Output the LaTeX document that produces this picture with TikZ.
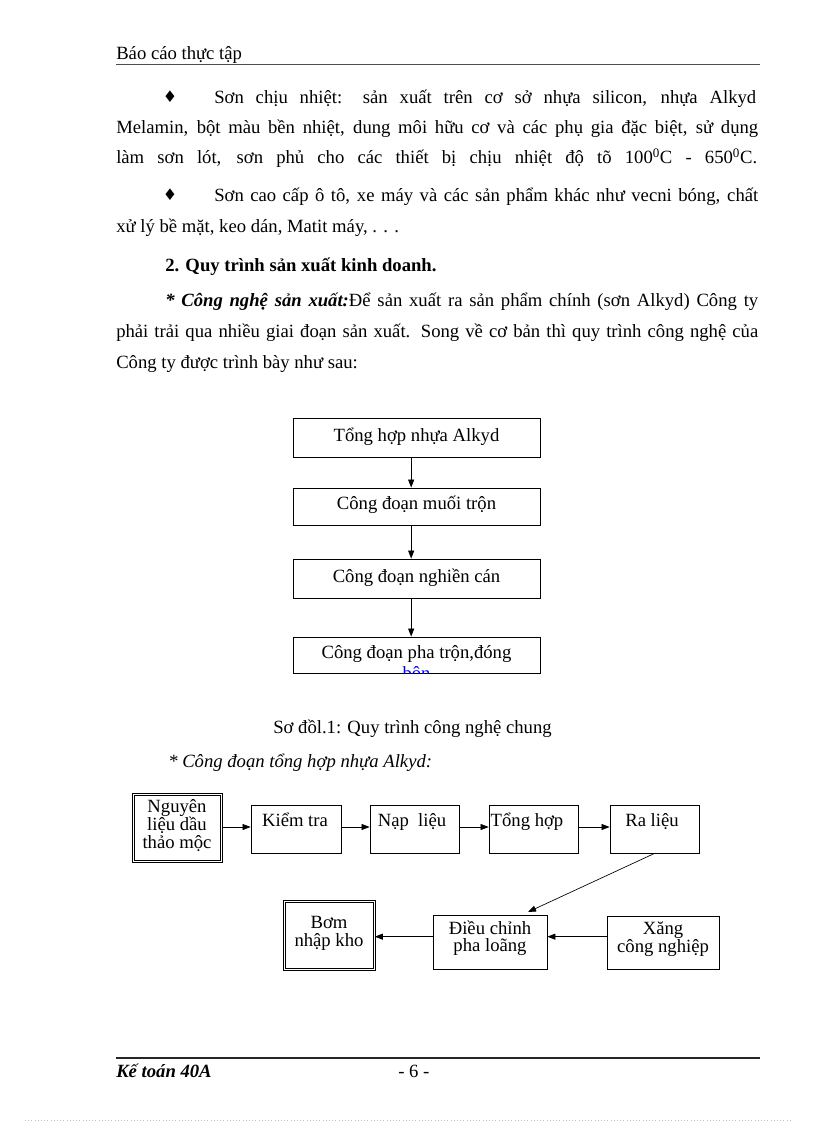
\documentclass[tikz,border=0pt]{standalone}
\usepackage{fontspec}
\setmainfont{Liberation Serif}
\newfontfamily\dejavu{DejaVu Sans}
\usetikzlibrary{arrows.meta}
\begin{document}
\begin{tikzpicture}[x=0.75pt,y=-0.75pt,
  txt/.style={inner sep=0pt, anchor=base west, font=\fontsize{14}{16}\selectfont},
  ctxt/.style={inner sep=0pt, anchor=base, font=\fontsize{14}{16}\selectfont},
  box/.style={draw, line width=0.6pt, inner sep=0pt},
  dbox/.style={draw, line width=0.6pt, double, double distance=1.2pt, inner sep=0pt},
  arr/.style={line width=0.5pt, -{Triangle[length=6pt,width=4.5pt]}},
  bullet/.style={inner sep=0pt, anchor=base, font=\dejavu\fontsize{12}{14}\selectfont}
]
\useasboundingbox (0,0) rectangle (816,1123);

% header
\node[txt] (hdr) at (116,60) {Báo cáo thực tập};
\coordinate (hl1) at (116,64);
\coordinate (hl2) at (760,64);
\draw[line width=0.5pt, black!70] (hl1) -- (hl2);

% paragraph 1
\node[bullet] (b1) at (170,103) {♦};
\node[txt] (p1l1) at (214,104) {\makebox[406.5pt][s]{Sơn chịu nhiệt: sản xuất trên cơ sở nhựa silicon, nhựa Alkyd}};
\node[txt] (p1l2) at (116,134) {\makebox[481.5pt][s]{Melamin, bột màu bền nhiệt, dung môi hữu cơ và các phụ gia đặc biệt, sử dụng}};
\node[txt] (p1l3) at (116,164) {\makebox[480.75pt][s]{làm sơn lót, sơn phủ cho các thiết bị chịu nhiệt độ tõ 100\textsuperscript{0}C - 650\textsuperscript{0}C.}};

% paragraph 2
\node[bullet] (b2) at (170,201) {♦};
\node[txt] (p2l1) at (214,202) {\makebox[408pt][s]{Sơn cao cấp ô tô, xe máy và các sản phẩm khác như vecni bóng, chất}};
\node[txt] (p2l2) at (116,233) {xử lý bề mặt, keo dán, Matit máy, . . .};

% heading
\node[txt] (h2) at (165,272) {\textbf{2. Quy trình sản xuất kinh doanh.}};

% paragraph 3
\node[txt] (p3l1) at (165,306) {\makebox[444.75pt][s]{\textbf{\textit{* Công nghệ sản xuất:}}Để sản xuất ra sản phẩm chính (sơn Alkyd) Công ty}};
\node[txt] (p3l2) at (116,337) {\makebox[481.5pt][s]{phải trải qua nhiều giai đoạn sản xuất. Song về cơ bản thì quy trình công nghệ của}};
\node[txt] (p3l3) at (116,368) {Công ty được trình bày như sau:};

% top flowchart
\node[box, minimum width=185.25pt, minimum height=29.25pt] (f1) at (416.5,437.5) {};
\node[box, minimum width=185.25pt, minimum height=27.75pt] (f2) at (416.5,506.5) {};
\node[box, minimum width=185.25pt, minimum height=29.25pt] (f3) at (416.5,578.5) {};
\node[box, minimum width=185.25pt, minimum height=27pt] (f4) at (416.5,655) {};
\node[ctxt] (f1t) at (416.5,441) {Tổng hợp nhựa Alkyd};
\node[ctxt] (f2t) at (416.5,509) {Công đoạn muối trộn};
\node[ctxt] (f3t) at (416.5,582) {Công đoạn nghiền cán};
\node[ctxt] (f4t) at (416.5,658) {Công đoạn pha trộn,đóng};
\begin{scope}
  \clip (f4.south west) rectangle (f4.north east);
  \node[ctxt, blue] (f4b) at (416.5,679) {bôn};
\end{scope}
\draw[arr] ([xshift=-4pt]f1.south) -- ([xshift=-4pt]f2.north);
\draw[arr] ([xshift=-4pt]f2.south) -- ([xshift=-4pt]f3.north);
\draw[arr] ([xshift=-4pt]f3.south) -- ([xshift=-4pt]f4.north);

% caption
\node[ctxt] (cap) at (412.5,733) {Sơ đồl.1: Quy trình công nghệ chung};
\node[txt] (sub) at (168,767) {\textit{* Công đoạn tổng hợp nhựa Alkyd:}};

% bottom flowchart
\node[dbox, minimum width=66pt, minimum height=50pt] (ng) at (177.5,828) {};
\node[box, minimum width=67.5pt, minimum height=36pt] (kt) at (296,829) {};
\node[box, minimum width=66.75pt, minimum height=36pt] (nl) at (414.5,829) {};
\node[box, minimum width=66.75pt, minimum height=36pt] (th) at (533.5,829) {};
\node[box, minimum width=66.75pt, minimum height=36pt] (rl) at (654.5,829) {};
\node[dbox, minimum width=67.4pt, minimum height=51pt] (bn) at (329.5,935.5) {};
\node[box, minimum width=85.5pt, minimum height=40.5pt] (dc) at (490,942) {};
\node[box, minimum width=84pt, minimum height=39.75pt] (xg) at (663,942.5) {};

\node[ctxt] (ngt1) at (177,812) {Nguyên};
\node[ctxt] (ngt2) at (177,830) {liệu dầu};
\node[ctxt] (ngt3) at (177,848) {thảo mộc};
\node[ctxt] (ktt) at (295,826) {Kiểm tra};
\node[ctxt] (nlt) at (412,826) {Nạp\ \ liệu};
\node[ctxt] (tht) at (527,826) {Tổng hợp};
\node[ctxt] (rlt) at (652,826) {Ra liệu};
\node[ctxt] (bnt1) at (329,928) {Bơm};
\node[ctxt] (bnt2) at (329,946) {nhập kho};
\node[ctxt] (dct1) at (490,934) {Điều chỉnh};
\node[ctxt] (dct2) at (490,951) {pha loãng};
\node[ctxt] (xgt1) at (663,934) {Xăng};
\node[ctxt] (xgt2) at (663,952) {công nghiệp};

\coordinate (a1) at ([yshift=1.5pt]kt.west);
\coordinate (a2) at ([yshift=1.5pt]nl.west);
\coordinate (a3) at ([yshift=1.5pt]th.west);
\coordinate (a4) at ([yshift=1.5pt]rl.west);
\draw[arr] (ng.east |- a1) -- (a1);
\draw[arr] (kt.east |- a2) -- (a2);
\draw[arr] (nl.east |- a3) -- (a3);
\draw[arr] (th.east |- a4) -- (a4);
\coordinate (dctip) at (528,912);
\draw[arr] (rl.south) -- (dctip);
\coordinate (a5) at ([yshift=4pt]dc.east);
\coordinate (a6) at ([yshift=4pt]dc.west);
\draw[arr] (xg.west |- a5) -- (a5);
\draw[arr] (a6) -- (a6 -| bn.east);

% footer
\coordinate (fl1) at (116,1058);
\coordinate (fl2) at (760,1058);
\draw[line width=1pt, black!85] (fl1) -- (fl2);
\node[txt] (ft1) at (116,1077) {\textbf{\textit{Kế toán 40A}}};
\node[txt] (ft2) at (398,1077) {- 6 -};
\coordinate (pl1) at (25,1120);
\coordinate (pl2) at (792,1120);
\draw[black!25, dotted, line width=0.4pt] (pl1) -- (pl2);
\end{tikzpicture}
\end{document}
